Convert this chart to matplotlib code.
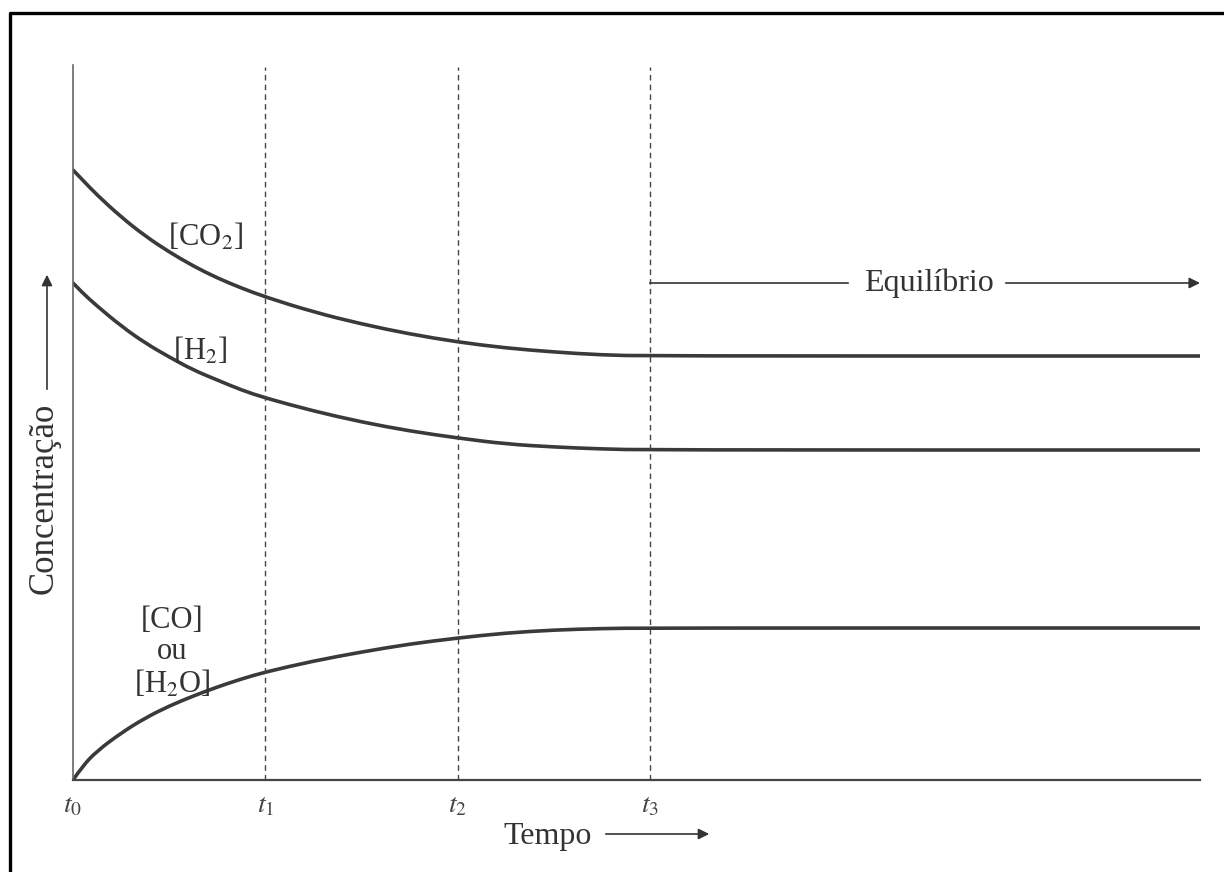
import matplotlib
matplotlib.use("Agg")
from matplotlib import pyplot as plt
from matplotlib.lines import Line2D
from matplotlib.path import Path
from matplotlib.patches import PathPatch, FancyArrowPatch

plt.rcParams['font.family'] = ['serif']
plt.rcParams['font.serif'] = ['Liberation Serif', 'DejaVu Serif']
plt.rcParams['mathtext.fontset'] = 'stix'

# tempo (t0..t3 em unidades iguais) e concentrações
tempo = [0, 0.05, 0.125, 0.25, 0.375, 0.5, 0.625, 0.75, 0.875, 1.0,
         1.25, 1.5, 1.75, 2.0, 2.25, 2.5, 2.75, 3.0, 5.86]
co2 = [6.10, 6.00, 5.85, 5.63, 5.44, 5.28, 5.14, 5.02, 4.92, 4.83,
       4.68, 4.56, 4.46, 4.38, 4.32, 4.28, 4.25, 4.24, 4.24]
h2 = [4.97, 4.87, 4.74, 4.54, 4.37, 4.23, 4.10, 4.00, 3.90, 3.82,
      3.69, 3.58, 3.49, 3.42, 3.36, 3.33, 3.31, 3.30, 3.30]
co = [0.0, 0.14, 0.29, 0.47, 0.62, 0.74, 0.84, 0.93, 1.01, 1.08,
      1.19, 1.28, 1.36, 1.42, 1.47, 1.50, 1.515, 1.52, 1.52]

t_marcas = [0, 1, 2, 3]
t_rotulos = [r'$t_0$', r'$t_1$', r'$t_2$', r'$t_3$']

cor = '#333333'


def curva(ax, x, y):
    # curva suave: pontos lidos como controles de Bezier quadráticas
    verts = [(x[0], y[0])]
    codes = [Path.MOVETO]
    for i in range(1, len(x) - 1):
        verts += [(x[i], y[i]), ((x[i] + x[i+1]) / 2, (y[i] + y[i+1]) / 2)]
        codes += [Path.CURVE3, Path.CURVE3]
    verts.append((x[-1], y[-1]))
    codes.append(Path.LINETO)
    ax.add_patch(PathPatch(Path(verts, codes), fill=False,
                           edgecolor='#3a3a3a', lw=2.6, capstyle='round'))


fig = plt.figure(figsize=(12.24, 8.72), dpi=100)
ax = fig.add_axes([73/1224, 92/872, 1127/1224, 715/872])

curva(ax, tempo, co2)
curva(ax, tempo, h2)
curva(ax, tempo, co)

# linhas tracejadas em t1, t2, t3
for t in t_marcas[1:]:
    ax.plot([t, t], [0, 7.13], color='#444444', lw=1.0, dashes=(4, 3))

ax.set_xlim(0, 5.86)
ax.set_ylim(0, 7.15)
ax.spines['top'].set_visible(False)
ax.spines['right'].set_visible(False)
ax.spines['left'].set_color('#666666')
ax.spines['left'].set_linewidth(1.2)
ax.spines['bottom'].set_color('#444444')
ax.spines['bottom'].set_linewidth(1.6)
ax.set_yticks([])
ax.set_xticks(t_marcas)
ax.set_xticklabels(t_rotulos, fontsize=20, color='#444444')
ax.tick_params(axis='x', length=0, pad=10)

# rótulos das curvas
ax.text(0.69, 5.43, r'[CO$_2$]', fontsize=22, color=cor, ha='center', va='center')
ax.text(0.66, 4.29, r'[H$_2$]', fontsize=22, color=cor, ha='center', va='center')
ax.text(0.515, 1.27, '[CO]\nou\n[H$_2$O]', fontsize=22, color=cor,
        ha='center', va='center', linespacing=1.1, multialignment='center')

# Equilíbrio
ax.plot([3.0, 4.03], [4.97, 4.97], color='#333333', lw=1.2)
ax.text(4.45, 4.97, 'Equilíbrio', fontsize=23, color=cor, ha='center', va='center')
ax.annotate('', xy=(5.86, 4.97), xytext=(4.85, 4.97),
            arrowprops=dict(arrowstyle='-|>', mutation_scale=16, lw=1.2,
                            color='#333333', shrinkA=0, shrinkB=0))

# eixos com setas
fig.text(548/1224, 1 - 836/872, 'Tempo', fontsize=23, color=cor,
         ha='center', va='center')
fig.add_artist(FancyArrowPatch(
    (603/1224, 1 - 834/872), (712/1224, 1 - 834/872), transform=fig.transFigure,
    arrowstyle='-|>', mutation_scale=16, lw=1.2, color='#333333'))

fig.text(44/1224, 1 - 498/872, 'Concentração', fontsize=25, color=cor,
         ha='center', va='center', rotation=90)
fig.add_artist(FancyArrowPatch(
    (47/1224, 1 - 392/872), (47/1224, 1 - 272/872), transform=fig.transFigure,
    arrowstyle='-|>', mutation_scale=16, lw=1.2, color='#333333'))

# moldura
fig.add_artist(Line2D([10/1224, 10/1224, 1.01], [-0.01, 1 - 13/872, 1 - 13/872],
                      transform=fig.transFigure, color='black', lw=2.4))

plt.savefig('out.png', dpi=100)
